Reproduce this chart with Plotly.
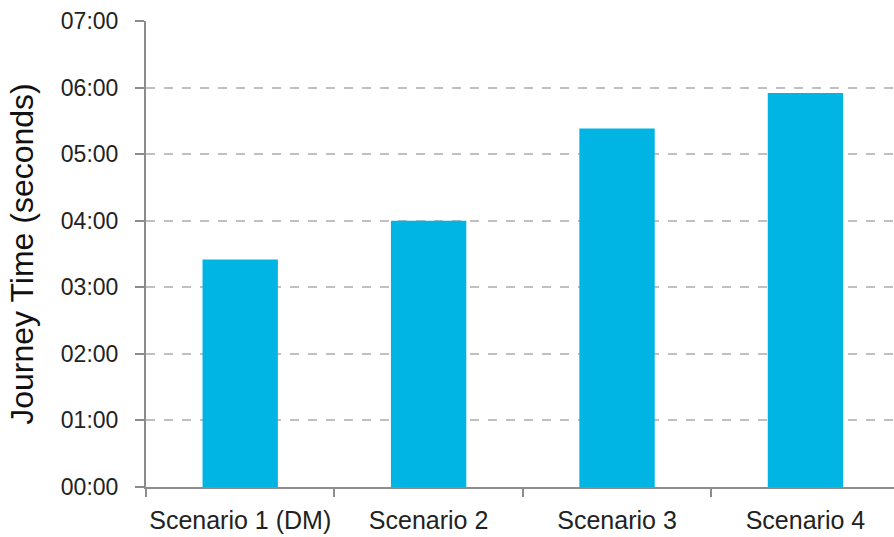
import plotly.graph_objects as go

categories = ["Scenario 1 (DM)", "Scenario 2", "Scenario 3", "Scenario 4"]
journey_seconds = [205, 240, 323, 355]
tick_values = [0, 60, 120, 180, 240, 300, 360, 420]
tick_labels = ["00:00", "01:00", "02:00", "03:00", "04:00", "05:00", "06:00", "07:00"]

fig = go.Figure(go.Bar(
    x=categories, y=journey_seconds,
    marker=dict(color="#00B4E4", line=dict(width=0)),
    width=0.4,
))

font_family = "Liberation Sans, Arial, sans-serif"
fig.update_layout(
    width=894, height=537,
    margin=dict(l=146, r=0, t=21, b=50, autoexpand=False),
    paper_bgcolor="white", plot_bgcolor="white",
    showlegend=False,
    font=dict(family=font_family, color="#222222", size=20),
    xaxis=dict(
        range=[-0.5, 3.47],
        automargin=False,
        tickangle=0,
        showline=True, linecolor="#8c8c8c", linewidth=2,
        ticks="outside", tickson="boundaries", ticklen=8, tickwidth=2, tickcolor="#8c8c8c",
        tickfont=dict(size=25, color="#222222"),
        ticklabelstandoff=10,
        showgrid=False,
    ),
    yaxis=dict(
        range=[0, 420],
        automargin=False,
        tickvals=tick_values, ticktext=tick_labels,
        showline=True, linecolor="#8c8c8c", linewidth=2,
        ticks="outside", ticklen=9, tickwidth=2, tickcolor="#8c8c8c",
        tickfont=dict(size=23, color="#222222"),
        ticklabelstandoff=12,
        showgrid=True, gridcolor="#c0c0c0", griddash="dash", gridwidth=1.5,
        zeroline=False,
        title=dict(text="Journey Time (seconds)", font=dict(size=32, color="#111111"), standoff=18),
    ),
)

fig.write_html("out.html")
